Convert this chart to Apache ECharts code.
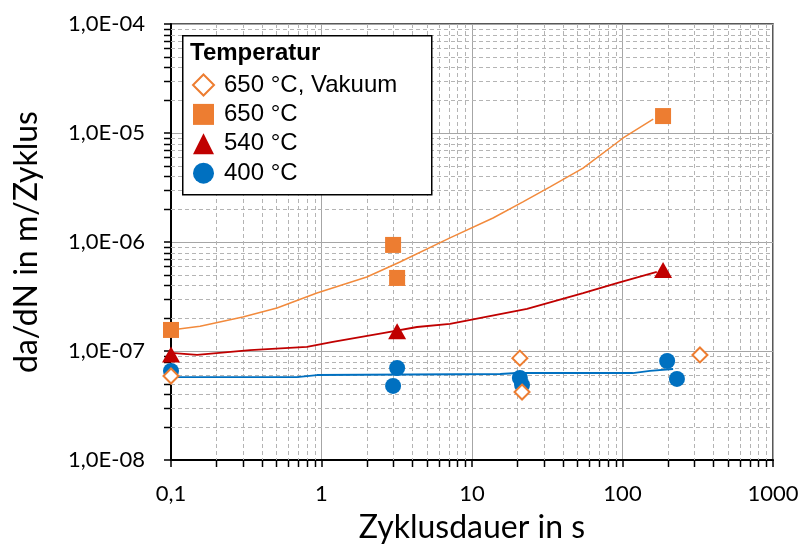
<!DOCTYPE html>
<html>
<head>
<meta charset="utf-8">
<script src="https://cdn.jsdelivr.net/npm/echarts@6/dist/echarts.min.js"></script>
<style>
html,body{margin:0;padding:0;background:#fff;}
#chart{width:803px;height:549px;}
</style>
</head>
<body>
<div id="chart"></div>
<script>
// ---- data ----
const seriesNames = ['650 °C, Vakuum', '650 °C', '540 °C', '400 °C'];
const vakuum650 = [[0.1, 5.9e-8], [20.8, 8.6e-8], [21.5, 4.2e-8], [327, 9.2e-8]];
const temp650 = [[0.1, 1.56e-7], [2.99, 9.4e-7], [3.18, 4.68e-7], [186, 1.43e-5]];
const temp540 = [[0.1, 9.3e-8], [3.18, 1.52e-7], [186, 5.53e-7]];
const temp400 = [[0.1, 6.56e-8], [3.18, 6.98e-8], [2.99, 4.78e-8], [20.8, 5.65e-8], [21.5, 4.88e-8], [198, 8.1e-8], [230, 5.54e-8]];
const trend650 = [[0.1, 1.56e-7], [0.156, 1.69e-7], [0.30, 2.05e-7], [0.506, 2.48e-7], [0.933, 3.40e-7], [2.0, 4.77e-7], [3.32, 6.56e-7], [7.14, 1.09e-6], [13.8, 1.66e-6], [21.8, 2.33e-6], [33, 3.2e-6], [54.7, 4.77e-6], [101, 9.0e-6], [160, 1.34e-5]];
const trend540 = [[0.1, 9.6e-8], [0.149, 9.2e-8], [0.335, 1.02e-7], [0.80, 1.09e-7], [1.19, 1.21e-7], [2.56, 1.46e-7], [4.31, 1.66e-7], [7.14, 1.77e-7], [23.2, 2.43e-7], [54.7, 3.40e-7], [91.8, 4.2e-7], [169, 5.31e-7]];
const trend400 = [[0.1, 5.77e-8], [0.687, 5.77e-8], [0.933, 6.02e-8], [15.4, 6.15e-8], [19.9, 6.28e-8], [117, 6.28e-8], [152, 6.56e-8], [217, 6.84e-8]];
const xTickLabels = ['0,1', '1', '10', '100', '1000'];
const yTickLabels = ['1,0E-08', '1,0E-07', '1,0E-06', '1,0E-05', '1,0E-04'];
const xAxisTitle = 'Zyklusdauer in s';
const yAxisTitle = 'da/dN in m/Zyklus';
const legendTitle = 'Temperatur';

// minor grid positions (2..9 per decade)
const xMinor = [], yMinor = [];
for (let d = -1; d <= 2; d++) for (let k = 2; k <= 9; k++) xMinor.push(parseFloat((k * Math.pow(10, d)).toPrecision(3)));
for (let d = -8; d <= -5; d++) for (let k = 2; k <= 9; k++) yMinor.push(parseFloat((k * Math.pow(10, d)).toPrecision(3)));

const cOrange = '#ED7D31', cRed = '#C00000', cBlue = '#0070C0';
const tickFont = 'Lato';

const chart = echarts.init(document.getElementById('chart'), null, {renderer: 'canvas'});
const option = {
  animation: false,
  backgroundColor: '#fff',
  grid: {left: 171, top: 24, right: 30, bottom: 89, show: true, borderColor: '#222', borderWidth: 1.5, backgroundColor: 'transparent'},
  xAxis: {
    type: 'log', logBase: 10, min: 0.1, max: 1000,
    name: xAxisTitle, nameLocation: 'middle', nameGap: 52,
    nameTextStyle: {fontFamily: tickFont, fontSize: 32, color: '#000'},
    axisLine: {show: true, onZero: false, lineStyle: {color: '#000', width: 2}},
    axisTick: {show: true, length: 7, lineStyle: {color: '#000', width: 1.5}},
    axisLabel: {margin: 23, fontFamily: tickFont, fontSize: 22, color: '#000',
      formatter: v => xTickLabels[Math.round(Math.log10(v)) + 1]},
    splitLine: {show: true, lineStyle: {color: '#a6a6a6', width: 1}},
    minorTick: {show: false}, minorSplitLine: {show: false}
  },
  yAxis: {
    type: 'log', logBase: 10, min: 1e-8, max: 1e-4,
    name: yAxisTitle, nameLocation: 'middle', nameGap: 128,
    nameTextStyle: {fontFamily: tickFont, fontSize: 32, color: '#000'},
    axisLine: {show: true, onZero: false, lineStyle: {color: '#000', width: 2}},
    axisTick: {show: true, length: 7, lineStyle: {color: '#000', width: 1.5}},
    axisLabel: {margin: 26, fontFamily: tickFont, fontSize: 22, color: '#000',
      formatter: v => yTickLabels[Math.round(Math.log10(v)) + 8]},
    splitLine: {show: true, lineStyle: {color: '#a6a6a6', width: 1}},
    minorTick: {show: false}, minorSplitLine: {show: false}
  },
  legend: {
    data: seriesNames,
    orient: 'vertical', left: 192, top: 73, padding: 0,
    itemWidth: 21, itemHeight: 21, itemGap: 5.4,
    backgroundColor: 'transparent', z: 8,
    textStyle: {fontFamily: 'Liberation Sans', fontSize: 24, lineHeight: 24, color: '#000', padding: [0, 0, 0, 5]},
    selectedMode: false
  },
  graphic: [
    {type: 'rect', left: 182, top: 35, z: 7, shape: {width: 249, height: 159},
      style: {fill: '#fff', stroke: '#000', lineWidth: 1.5}},
    {type: 'text', left: 190, top: 41, z: 9,
      style: {text: legendTitle, font: 'bold 24px "Liberation Sans"', fill: '#000'}}
  ],
  series: [
    {
      type: 'custom', name: 'minorGrid', z: 1, silent: true, clip: false,
      data: xMinor.map(v => [v, 1e-6, 0]).concat(yMinor.map(v => [1, v, 1])),
      encode: {x: 0, y: 1},
      renderItem: function (params, api) {
        const cs = params.coordSys;
        const t = api.value(2);
        if (t === 0) {
          const x = Math.round(api.coord([api.value(0), 1e-6])[0]) + 0.5;
          return {type: 'group', children: [
            {type: 'line', shape: {x1: x, y1: cs.y, x2: x, y2: cs.y + cs.height}, style: {stroke: '#b4b4b4', lineWidth: 1, lineDash: [4, 3]}},
            {type: 'line', shape: {x1: x, y1: cs.y + cs.height, x2: x, y2: cs.y + cs.height + 7}, style: {stroke: '#000', lineWidth: 1.5}}
          ]};
        } else {
          const y = Math.round(api.coord([1, api.value(1)])[1]) + 0.5;
          return {type: 'group', children: [
            {type: 'line', shape: {x1: cs.x, y1: y, x2: cs.x + cs.width, y2: y}, style: {stroke: '#b4b4b4', lineWidth: 1, lineDash: [4, 3]}},
            {type: 'line', shape: {x1: cs.x - 7, y1: y, x2: cs.x, y2: y}, style: {stroke: '#000', lineWidth: 1.5}}
          ]};
        }
      }
    },
    {type: 'line', name: 'trend400', data: trend400, showSymbol: false, symbol: 'none', z: 3, silent: true,
      lineStyle: {color: cBlue, width: 1.8}},
    {type: 'line', name: 'trend540', data: trend540, showSymbol: false, symbol: 'none', z: 3, silent: true,
      lineStyle: {color: cRed, width: 1.8}},
    {type: 'line', name: 'trend650', data: trend650, showSymbol: false, symbol: 'none', z: 3, silent: true,
      lineStyle: {color: '#F28A3C', width: 1.5}},
    {type: 'scatter', name: seriesNames[3], data: temp400, symbol: 'circle', symbolSize: 16, z: 4,
      itemStyle: {color: cBlue, opacity: 1}},
    {type: 'scatter', name: seriesNames[2], data: temp540, symbol: 'triangle', symbolSize: [18, 16], z: 4,
      itemStyle: {color: cRed, opacity: 1}},
    {type: 'scatter', name: seriesNames[1], data: temp650, symbol: 'rect', symbolSize: 16, z: 4,
      itemStyle: {color: cOrange, opacity: 1}},
    {type: 'scatter', name: seriesNames[0], data: vakuum650, symbol: 'diamond', symbolSize: 15, z: 5,
      itemStyle: {color: '#fff', borderColor: cOrange, borderWidth: 2, opacity: 1}}
  ]
};
chart.setOption(option);
</script>
</body>
</html>
